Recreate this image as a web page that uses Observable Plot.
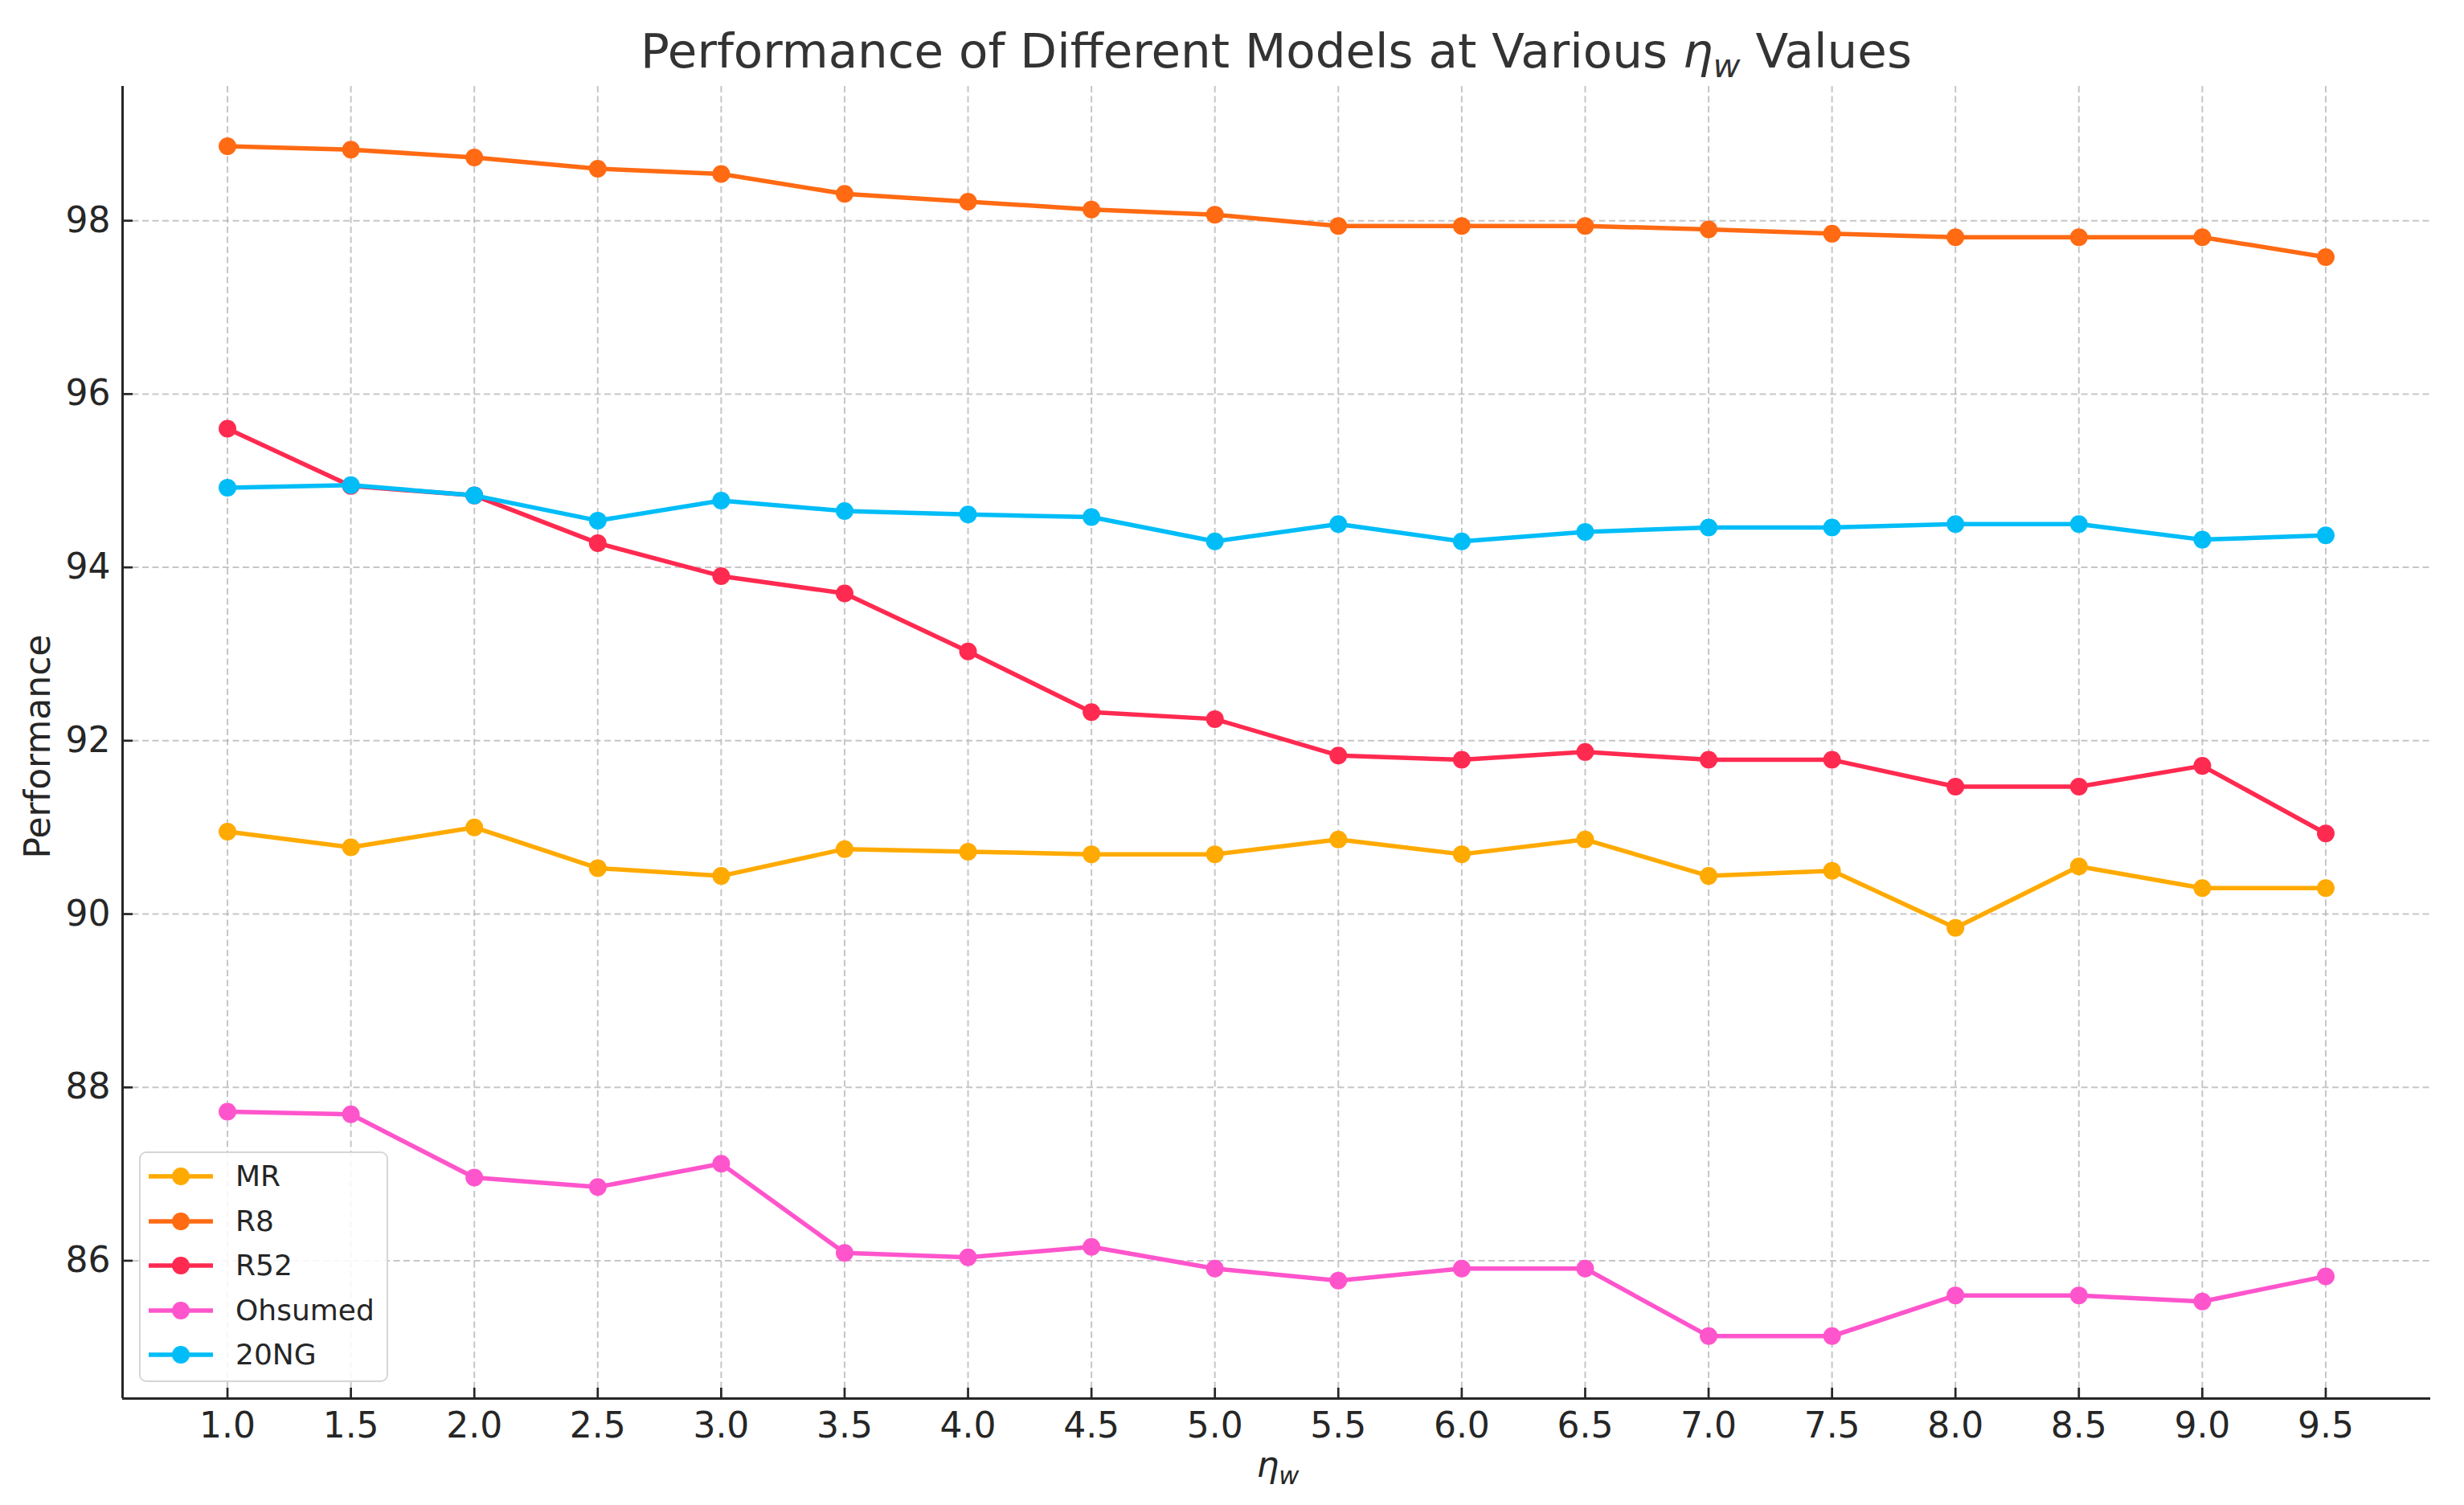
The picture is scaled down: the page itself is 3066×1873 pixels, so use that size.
<!DOCTYPE html>
<html><head><meta charset="utf-8">
<script src="https://cdn.jsdelivr.net/npm/d3@7"></script>
<script src="https://cdn.jsdelivr.net/npm/@observablehq/plot@0.6"></script>
<style>
body{margin:0;background:#fff;font-family:"DejaVu Sans",sans-serif;}
#wrap{position:relative;width:3066px;height:1873px;overflow:hidden;background:#fff;}
#title{position:absolute;top:34px;left:152px;width:2872px;text-align:center;font-size:59.5px;line-height:59.5px;color:#333;white-space:nowrap;}
.m{font-style:italic;}
.sub{font-style:italic;font-size:0.7em;position:relative;top:0.28em;}
#ylabel{position:absolute;left:47px;top:929px;transform:translate(-50%,-50%) rotate(-90deg);font-size:44px;line-height:44px;color:#262626;white-space:nowrap;}
#xlabel{position:absolute;left:1590px;top:1801px;transform:translateX(-50%);font-size:44px;line-height:44px;color:#262626;white-space:nowrap;}
#legend{position:absolute;left:173px;top:1433px;width:306px;height:283px;border:2px solid #d6d6d6;border-radius:9px;background:rgba(255,255,255,0.85);}
.row{position:absolute;left:0;height:50px;display:flex;align-items:center;}
.row svg{display:block;}
.row span{position:absolute;left:118px;font-size:36px;color:#262626;white-space:nowrap;line-height:36px;}
</style></head><body>
<div id="wrap">
 <div id="title">Performance of Different Models at Various <span class="m">η</span><span class="sub">w</span> Values</div>
 <div style="height:100px"></div>
 <div id="chart"></div>
 <div id="ylabel">Performance</div>
 <div id="xlabel"><span class="m">η</span><span class="sub">w</span></div>
 <div id="legend"></div>
</div>
<script>
const etaW = [1.0, 1.5, 2.0, 2.5, 3.0, 3.5, 4.0, 4.5, 5.0, 5.5, 6.0, 6.5, 7.0, 7.5, 8.0, 8.5, 9.0, 9.5];
const seriesNames = ["MR", "R8", "R52", "Ohsumed", "20NG"];
const seriesColors = ["#FFAA00", "#FF6A13", "#FF2A50", "#FF55CC", "#00BDF8"];
const mrValues      = [90.95, 90.77, 91.00, 90.53, 90.44, 90.75, 90.72, 90.69, 90.69, 90.86, 90.69, 90.86, 90.44, 90.50, 89.84, 90.55, 90.30, 90.30];
const r8Values      = [98.86, 98.82, 98.73, 98.60, 98.54, 98.31, 98.22, 98.13, 98.07, 97.94, 97.94, 97.94, 97.90, 97.85, 97.81, 97.81, 97.81, 97.58];
const r52Values     = [95.60, 94.94, 94.83, 94.28, 93.90, 93.70, 93.03, 92.33, 92.25, 91.83, 91.78, 91.87, 91.78, 91.78, 91.47, 91.47, 91.71, 90.93];
const ohsumedValues = [87.72, 87.69, 86.96, 86.85, 87.12, 86.09, 86.04, 86.16, 85.91, 85.77, 85.91, 85.91, 85.13, 85.13, 85.60, 85.60, 85.53, 85.82];
const ngValues      = [94.92, 94.95, 94.83, 94.54, 94.77, 94.65, 94.61, 94.58, 94.30, 94.50, 94.30, 94.41, 94.46, 94.46, 94.50, 94.50, 94.32, 94.37];
const xTicks = [1.0, 1.5, 2.0, 2.5, 3.0, 3.5, 4.0, 4.5, 5.0, 5.5, 6.0, 6.5, 7.0, 7.5, 8.0, 8.5, 9.0, 9.5];
const yTicks = [86, 88, 90, 92, 94, 96, 98];
const xDomain = [0.575, 9.925];
const yDomain = [84.41, 99.55];

const seriesValues = [mrValues, r8Values, r52Values, ohsumedValues, ngValues];
const rows = [];
seriesNames.forEach((s, i) => etaW.forEach((x, j) => rows.push({series: s, x, y: seriesValues[i][j]})));

const W = 3066, H = 1773, mL = 152, mR = 42, mT = 7, mB = 133;
const innerW = W - mL - mR, innerH = H - mT - mB;
const axisColor = "#262626";
const gridStyle = {stroke: "#b8b8b8", strokeOpacity: 0.8, strokeDasharray: "8,4.5", strokeWidth: 2};

const seriesMarks = seriesNames.flatMap(s => {
  const d = rows.filter(r => r.series === s);
  return [
    Plot.line(d, {x: "x", y: "y", stroke: "series", strokeWidth: 5.5}),
    Plot.dot(d, {x: "x", y: "y", fill: "series", r: 11})
  ];
});

const chart = Plot.plot({
  width: W, height: H,
  marginLeft: mL, marginRight: mR, marginTop: mT, marginBottom: mB,
  style: {fontFamily: "DejaVu Sans", color: axisColor, background: "transparent"},
  x: {domain: xDomain},
  y: {domain: yDomain},
  color: {domain: seriesNames, range: seriesColors},
  marks: [
    Plot.gridX(xTicks, gridStyle),
    Plot.gridY(yTicks, gridStyle),
    Plot.tickX(xTicks, {x: d => d, insetTop: innerH - 13, stroke: axisColor, strokeWidth: 2.7}),
    Plot.tickY(yTicks, {y: d => d, insetRight: innerW - 13, stroke: axisColor, strokeWidth: 2.7}),
    Plot.axisX(xTicks, {tickSize: 0, tickPadding: 17, tickFormat: d3.format(".1f"), fontSize: 44, label: null}),
    Plot.axisY(yTicks, {tickSize: 0, tickPadding: 15, tickFormat: d3.format("d"), fontSize: 44, label: null}),
    ...seriesMarks,
    Plot.ruleX([xDomain[0]], {stroke: axisColor, strokeWidth: 3}),
    Plot.ruleY([yDomain[0]], {stroke: axisColor, strokeWidth: 3})
  ]
});
document.getElementById("chart").appendChild(chart);

const legend = document.getElementById("legend");
seriesNames.forEach((s, i) => {
  const row = document.createElement("div");
  row.className = "row";
  row.style.top = (4 + i * 55.6) + "px";
  row.innerHTML = `<svg width="100" height="50"><line x1="10" x2="90" y1="25" y2="25" stroke="${seriesColors[i]}" stroke-width="5.5"/><circle cx="50" cy="25" r="11" fill="${seriesColors[i]}"/></svg><span>${s}</span>`;
  legend.appendChild(row);
});
</script>
</body></html>
